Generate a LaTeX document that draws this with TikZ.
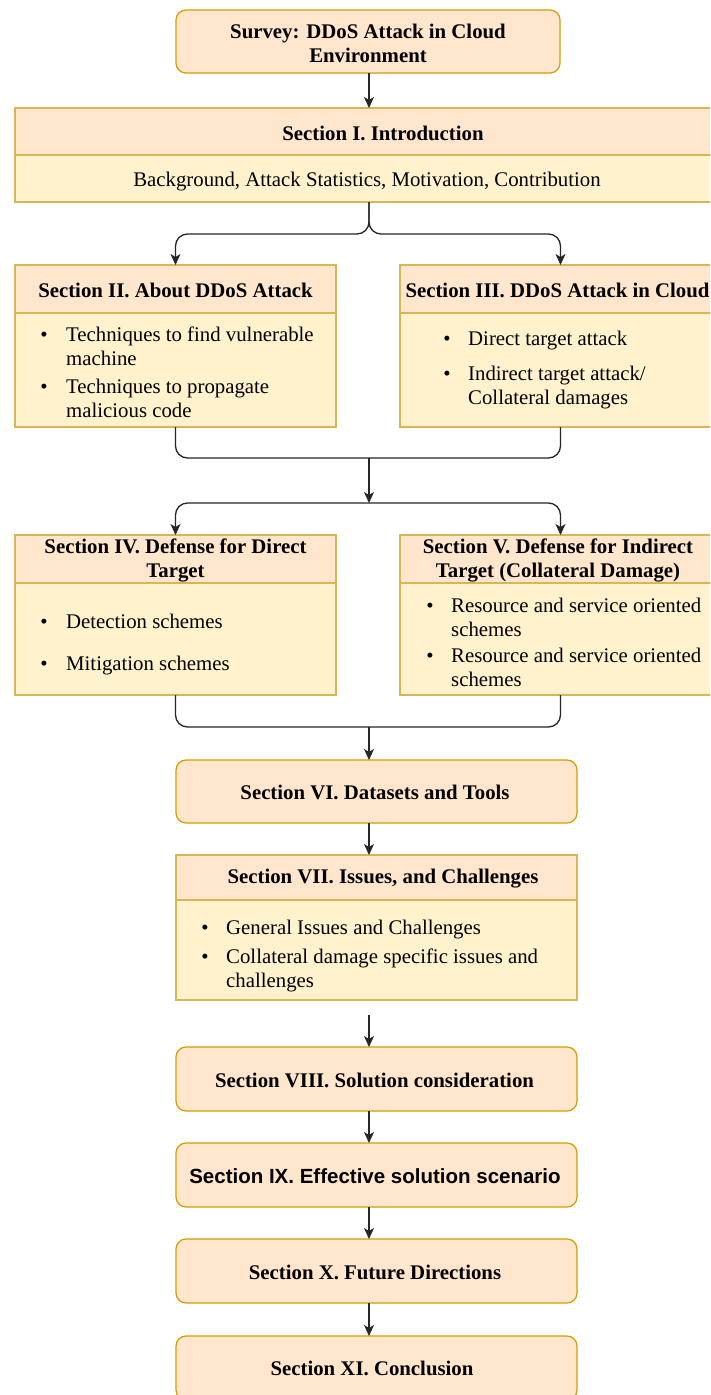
\documentclass[tikz,border=0pt]{standalone}
\usepackage{fontspec}
\setmainfont{Liberation Serif}
\newfontfamily\sansf{Liberation Sans}
\usetikzlibrary{arrows.meta}
\definecolor{hdr}{HTML}{FFE6CC}
\definecolor{bdy}{HTML}{FFF2CC}
\definecolor{bord}{HTML}{D6B656}
\definecolor{rbord}{HTML}{D79B00}
\definecolor{connc}{HTML}{262626}
\newcommand\ttlfont{\fontsize{20.8}{24}\selectfont\bfseries}
\newcommand\txtfont{\fontsize{20.8}{24}\selectfont}
\begin{document}
\begin{tikzpicture}[x=1pt,y=-1pt,
  hbox/.style={draw=bord, fill=hdr, line width=1.2pt, rectangle, inner sep=0, outer sep=0},
  bbox/.style={draw=bord, fill=bdy, line width=1.2pt, rectangle, inner sep=0, outer sep=0},
  rbox/.style={draw=rbord, fill=hdr, line width=1.2pt, rounded corners=10, inner sep=0, outer sep=0},
  ttl/.style={font=\ttlfont, align=center, inner sep=0},
  txt/.style={font=\txtfont, anchor=base west, inner sep=0},
  bul/.style={font=\txtfont, anchor=base, inner sep=0},
  conn/.style={draw=connc, line width=1.3pt},
  arr/.style={conn, -{Stealth[length=11pt,width=10pt,inset=3pt]}}]
\useasboundingbox (0,0) rectangle (710,1395);
\clip (0,0) rectangle (710,1395);
\fill[white] (0,0) rectangle (710,1395);

% Survey
\node[rbox, minimum width=384, minimum height=63] (sv) at (368,41.5) {};
\node[ttl] (svt) at (368,43) {Survey: DDoS Attack in Cloud\\Environment};

% Section I
\node[hbox, minimum width=720, minimum height=47] (s1h) at (375,131.5) {};
\node[bbox, minimum width=720, minimum height=47] (s1b) at (375,178.5) {};
\node[ttl] (s1t) at (383,133) {Section I. Introduction};
\node[font=\txtfont, inner sep=0] (s1x) at (367,182) {Background, Attack Statistics, Motivation, Contribution};

% Section II
\node[hbox, minimum width=321, minimum height=48] (s2h) at (175.5,289) {};
\node[bbox, minimum width=321, minimum height=114] (s2b) at (175.5,370) {};
\node[ttl] (s2t) at (175.5,290) {Section II. About DDoS Attack};
\node[bul] (s2b1) at (44,341) {\textbullet};
\node[txt] (s2l1) at (66,341) {Techniques to find vulnerable};
\node[txt] (s2l2) at (66,365) {machine};
\node[bul] (s2b2) at (44,393) {\textbullet};
\node[txt] (s2l3) at (66,393) {Techniques to propagate};
\node[txt] (s2l4) at (66,417) {malicious code};

% Section III
\node[hbox, minimum width=321, minimum height=48] (s3h) at (560.5,289) {};
\node[bbox, minimum width=321, minimum height=114] (s3b) at (560.5,370) {};
\node[ttl] (s3t) at (557.5,290) {Section III. DDoS Attack in Cloud};
\node[bul] (s3b1) at (447,345) {\textbullet};
\node[txt] (s3l1) at (468,345) {Direct target attack};
\node[bul] (s3b2) at (447,380) {\textbullet};
\node[txt] (s3l2) at (468,380) {Indirect target attack/};
\node[txt] (s3l3) at (468,404) {Collateral damages};

% Section IV
\node[hbox, minimum width=321, minimum height=48] (s4h) at (175.5,559) {};
\node[bbox, minimum width=321, minimum height=112] (s4b) at (175.5,639) {};
\node[ttl] (s4t) at (175.5,560) {Section IV. Defense for Direct\\Target};
\node[bul] (s4b1) at (44,628) {\textbullet};
\node[txt] (s4l1) at (66,628) {Detection schemes};
\node[bul] (s4b2) at (44,670) {\textbullet};
\node[txt] (s4l2) at (66,670) {Mitigation schemes};

% Section V
\node[hbox, minimum width=321, minimum height=48] (s5h) at (560.5,559) {};
\node[bbox, minimum width=321, minimum height=112] (s5b) at (560.5,639) {};
\node[ttl] (s5t) at (558,560) {Section V. Defense for Indirect\\Target (Collateral Damage)};
\node[bul] (s5b1) at (430,612) {\textbullet};
\node[txt] (s5l1) at (451,612) {Resource and service oriented};
\node[txt] (s5l2) at (451,636) {schemes};
\node[bul] (s5b2) at (430,662) {\textbullet};
\node[txt] (s5l3) at (451,662) {Resource and service oriented};
\node[txt] (s5l4) at (451,686) {schemes};

% Section VI
\node[rbox, minimum width=401, minimum height=63] (s6) at (376.5,791.5) {};
\node[ttl] (s6t) at (375,792) {Section VI. Datasets and Tools};

% Section VII
\node[hbox, minimum width=401, minimum height=45] (s7h) at (376.5,877.5) {};
\node[bbox, minimum width=401, minimum height=100] (s7b) at (376.5,950) {};
\node[ttl] (s7t) at (383,879) {Section VII. Issues, and Challenges};
\node[bul] (s7b1) at (205,934) {\textbullet};
\node[txt] (s7l1) at (226,934) {General Issues and Challenges};
\node[bul] (s7b2) at (205,963) {\textbullet};
\node[txt] (s7l2) at (226,963) {Collateral damage specific issues and};
\node[txt] (s7l3) at (226,987) {challenges};

% Lower boxes
\node[rbox, minimum width=401, minimum height=64] (s8) at (376.5,1079) {};
\node[ttl] (s8t) at (374.5,1080) {Section VIII. Solution consideration};
\node[rbox, minimum width=401, minimum height=64] (s9) at (376.5,1175) {};
\node[font=\fontsize{20.5}{24}\selectfont\sansf\bfseries, inner sep=0] (s9t) at (375,1176) {Section IX. Effective solution scenario};
\node[rbox, minimum width=401, minimum height=64] (s10) at (376.5,1271) {};
\node[ttl] (s10t) at (375,1272) {Section X. Future Directions};
\node[rbox, minimum width=401, minimum height=64] (s11) at (376.5,1368) {};
\node[ttl] (s11t) at (372,1368) {Section XI. Conclusion};

% Connectors
\coordinate (c0) at (369,0);
\draw[arr] (c0 |- sv.south) -- (c0 |- s1h.north);

\coordinate (br1) at (369,234);
\draw[arr, rounded corners=12] (br1 |- s1b.south) -- (br1) -- (br1 -| s2h.north) -- (s2h.north);
\draw[arr, rounded corners=12] (br1 |- s1b.south) -- (br1) -- (br1 -| s3h.north) -- (s3h.north);

\coordinate (m1) at (369,458);
\draw[conn, rounded corners=12] (s2b.south) -- (m1 -| s2b.south) -- (m1 -| s3b.south) -- (s3b.south);
\coordinate (sp1) at (369,503);
\draw[arr] (m1) -- (sp1);
\draw[arr, rounded corners=12] (sp1) -- (sp1 -| s4h.north) -- (s4h.north);
\draw[arr, rounded corners=12] (sp1) -- (sp1 -| s5h.north) -- (s5h.north);

\coordinate (m2) at (369,727);
\draw[conn, rounded corners=12] (s4b.south) -- (m2 -| s4b.south) -- (m2 -| s5b.south) -- (s5b.south);
\draw[arr] (m2) -- (m2 |- s6.north);

\draw[arr] (c0 |- s6.south) -- (c0 |- s7h.north);
\coordinate (a7) at (369,1015);
\draw[arr] (a7) -- (a7 |- s8.north);
\draw[arr] (c0 |- s8.south) -- (c0 |- s9.north);
\draw[arr] (c0 |- s9.south) -- (c0 |- s10.north);
\draw[arr] (c0 |- s10.south) -- (c0 |- s11.north);
\end{tikzpicture}
\end{document}
